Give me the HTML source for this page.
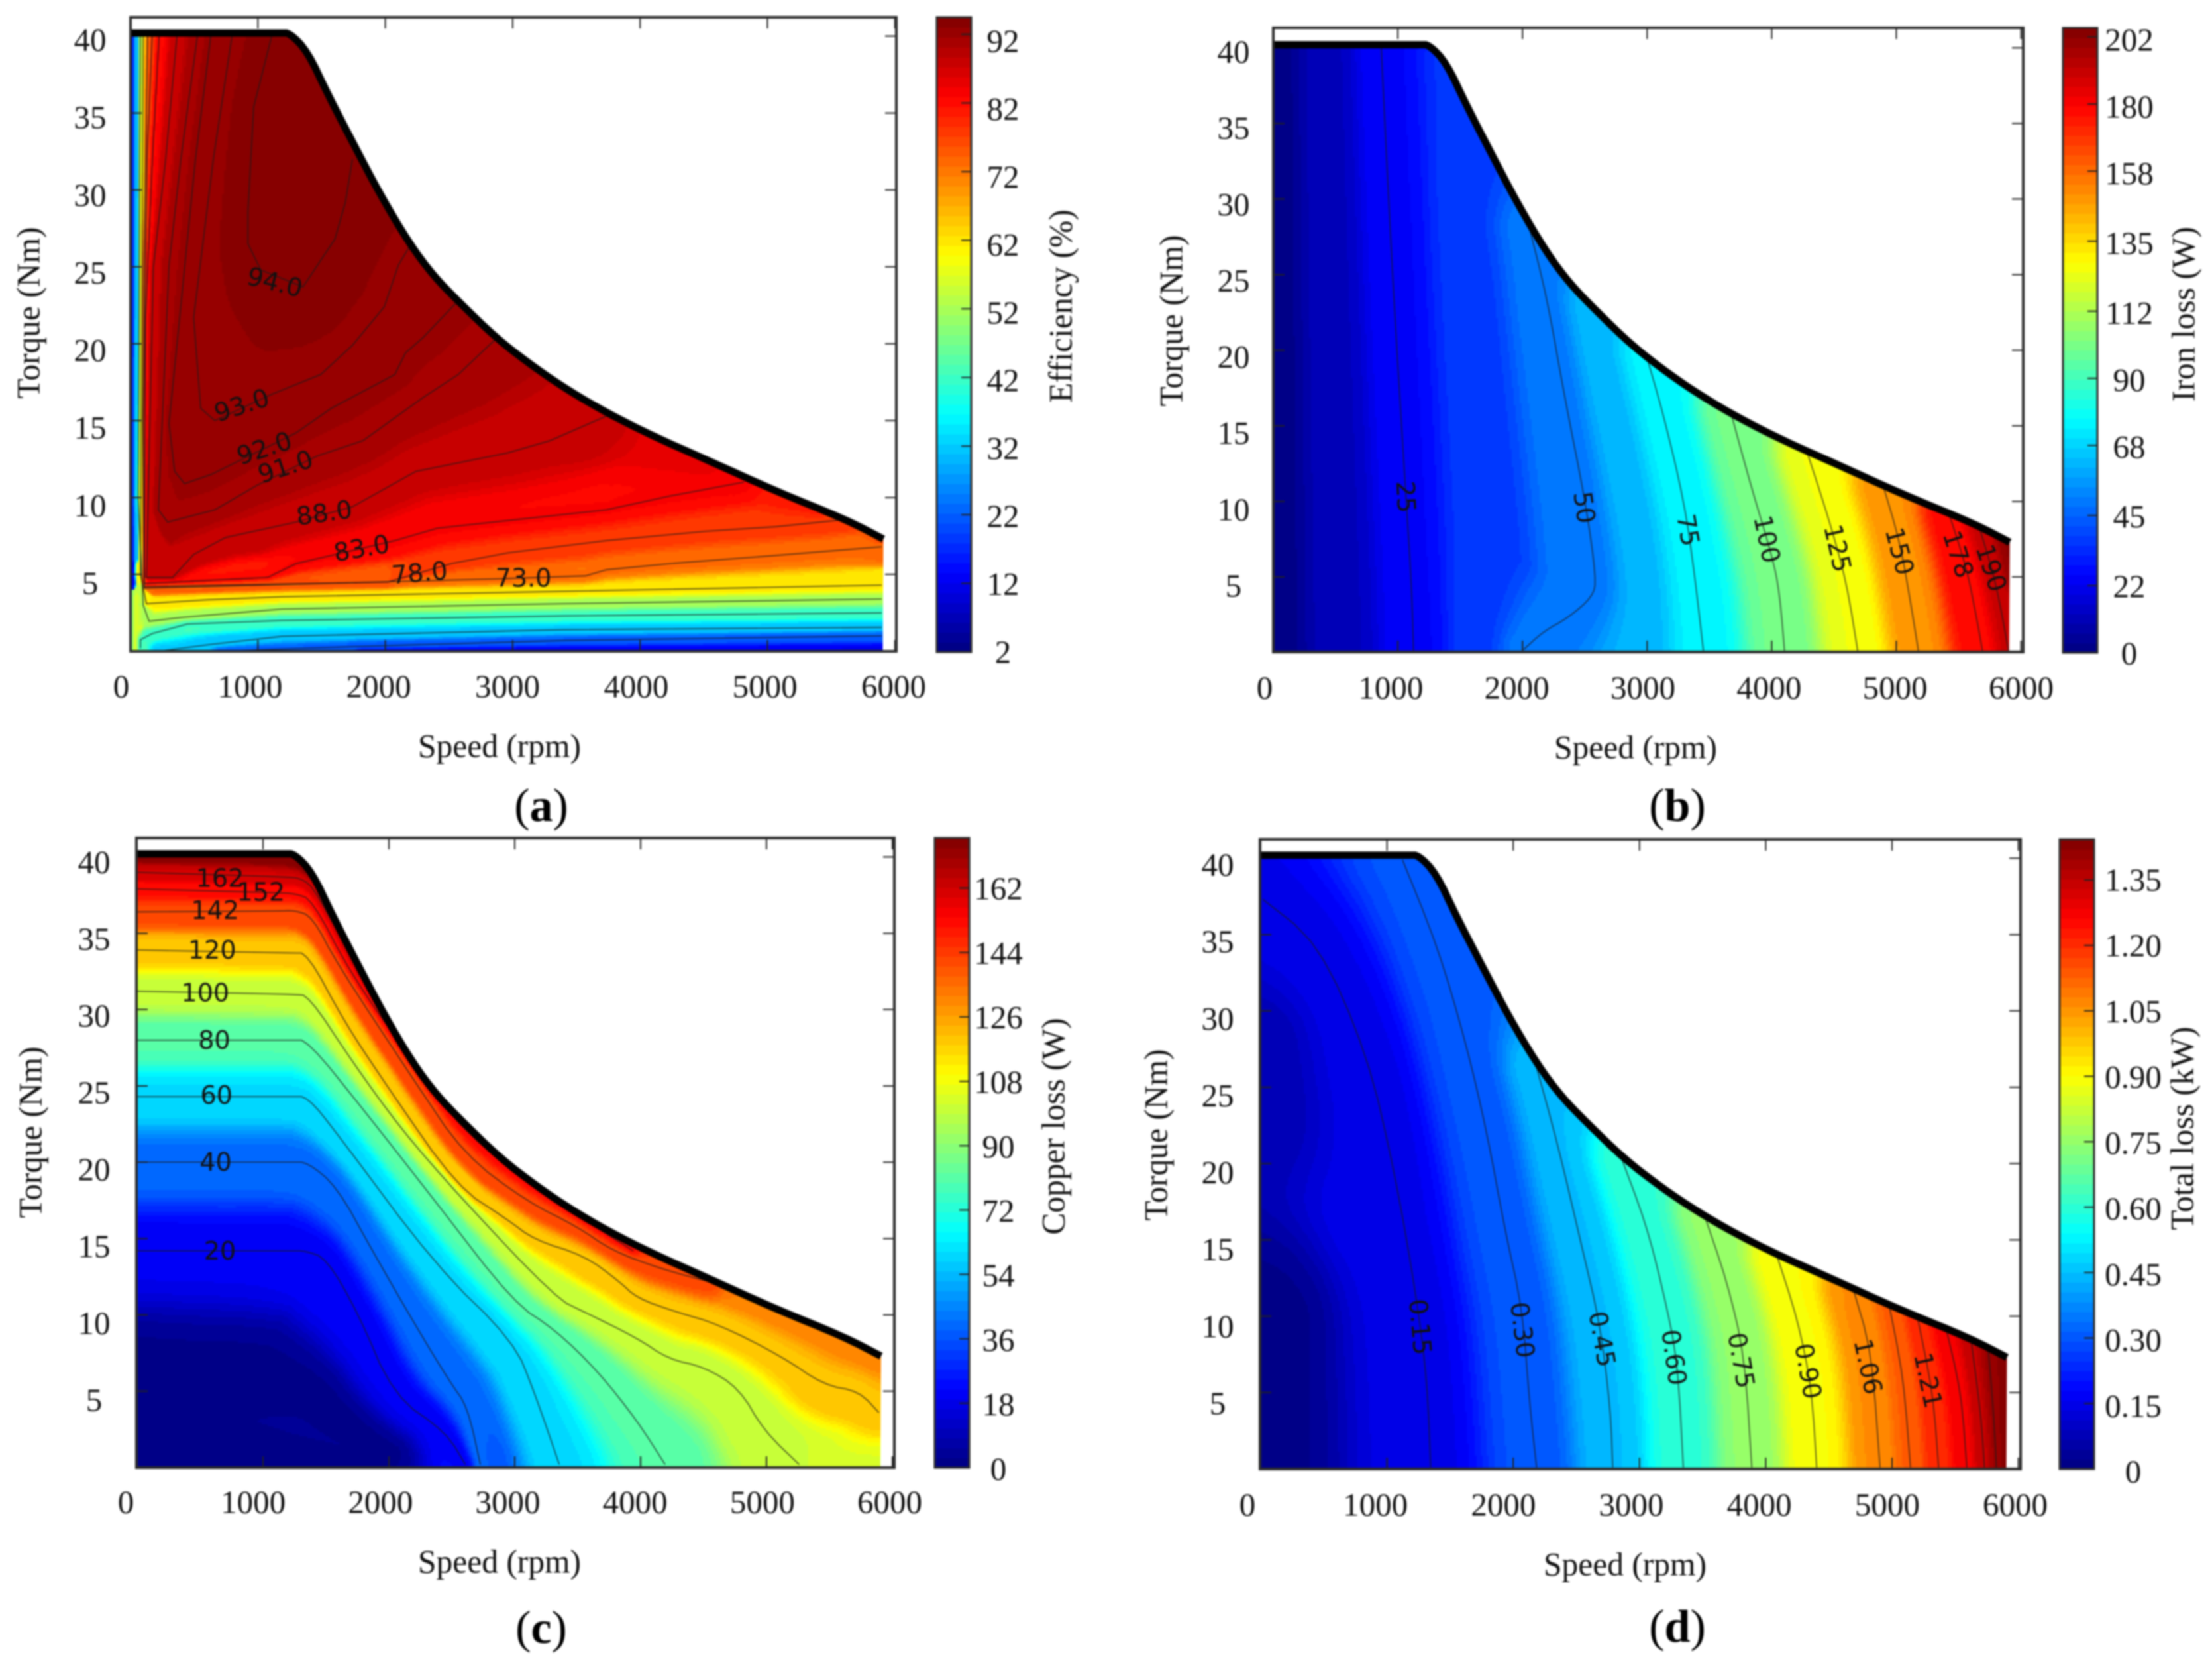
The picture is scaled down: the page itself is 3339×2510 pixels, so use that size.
<!DOCTYPE html>
<html lang="en">
<head>
<meta charset="utf-8">
<title>Motor efficiency and loss maps</title>
<style>
html,body{margin:0;padding:0;background:#fff;}
#figure{display:block;filter:blur(1.2px);}
text{font-family:"Liberation Serif",serif;fill:#111;}
.contour-label{font-family:"DejaVu Sans",sans-serif;font-size:38px;}
.tick{font-size:49px;}
.title{font-size:49.5px;}
.caption{font-size:70px;fill:#000;}
</style>
</head>
<body>
<svg id="figure" xmlns="http://www.w3.org/2000/svg" width="3339" height="2510" viewBox="0 0 3339 2510">
  <rect width="3339" height="2510" fill="#fff"/>
  <g id="panels"></g>
  <g text-anchor="middle" dominant-baseline="central">
    <text class="title" transform="translate(43 472) rotate(-90)">Torque (Nm)</text>
    <text class="title" x="754" y="1126">Speed (rpm)</text>
    <text class="title" transform="translate(1601 462) rotate(-90)">Efficiency (%)</text>
    <text class="caption" x="817" y="1216">(<tspan font-weight="bold">a</tspan>)</text>

    <text class="title" transform="translate(1768 484) rotate(-90)">Torque (Nm)</text>
    <text class="title" x="2469" y="1128">Speed (rpm)</text>
    <text class="title" transform="translate(3296 474) rotate(-90)">Iron loss (W)</text>
    <text class="caption" x="2532" y="1216">(<tspan font-weight="bold">b</tspan>)</text>

    <text class="title" transform="translate(46 1709) rotate(-90)">Torque (Nm)</text>
    <text class="title" x="754" y="2357">Speed (rpm)</text>
    <text class="title" transform="translate(1590 1700) rotate(-90)">Copper loss (W)</text>
    <text class="caption" x="817" y="2457">(<tspan font-weight="bold">c</tspan>)</text>

    <text class="title" transform="translate(1745 1713) rotate(-90)">Torque (Nm)</text>
    <text class="title" x="2453" y="2361">Speed (rpm)</text>
    <text class="title" transform="translate(3294 1703) rotate(-90)">Total loss (kW)</text>
    <text class="caption" x="2532" y="2455">(<tspan font-weight="bold">d</tspan>)</text>
  </g>
</svg>
<script>
/* ---------- shared axis data ---------- */
const speedTicks = [0, 1000, 2000, 3000, 4000, 5000, 6000];
const torqueTicks = [5, 10, 15, 20, 25, 30, 35, 40];
const envelopeSpeed = [0, 1180, 1250, 1390, 1550, 1750, 1960, 2190, 2380, 2580, 2880, 3180, 3450, 3740, 4100, 4510, 5070, 5620, 5910];
const envelopeTorque = [40.2, 40.2, 40.2, 39, 36.2, 33, 29.7, 26.5, 24.4, 22.7, 20.3, 18.4, 16.9, 15.5, 14, 12.5, 10.4, 8.55, 7.3];

/* ---------- (a) efficiency, % ---------- */
const efficiencyBarTicks = [92, 82, 72, 62, 52, 42, 32, 22, 12, 2];
const efficiencyLevels = [94, 93, 92, 91, 88, 83, 78, 73, 62, 52, 42, 32, 22];
const efficiencyContours = [
  [[1108,40],[967,35.4],[922,28.6],[922,26.5],[1022,24.8],[1354,23.7],[1604,26.8],[1687,29.2],[1742,32]],
  [[796,40],[650,32],[496,21.7],[551,15.8],[662,15],[1105,16.7],[1493,18],[1742,19.9],[1992,22.4],[2102,25.1],[2196,26.4]],
  [[630,40],[510,32],[302,14.8],[346,11.7],[424,10.9],[634,11.5],[1299,14.2],[1576,15.8],[2075,18],[2158,19.4],[2296,20.4],[2573,22.8]],
  [[525,40],[395,32],[302,25.1],[219,9.2],[291,8.4],[662,9.2],[994,10.8],[1465,12.7],[1825,13.7],[2296,16.5],[2573,18],[2878,20.4]],
  [[364,40],[276,32],[180,25],[125,4.8],[330,4.8],[496,6.3],[745,7.4],[1299,8.4],[1742,9.4],[2241,11.7],[2961,12.9],[3293,13.7],[3737,15.3]],
  [[224,40],[172,32],[119,21.7],[108,4.4],[1077,4.8],[1299,5.7],[2075,7.2],[2407,8],[3737,9.2],[4235,10.1],[4816,11]],
  [[170,40],[130,32],[102,15],[108,4.2],[2020,4.5],[2518,5.7],[2961,6.4],[3737,7.2],[4512,7.8],[5067,8.1],[5648,8.6]],
  [[135,40],[105,25],[97,15],[108,4.1],[2850,4.7],[3571,4.9],[3737,5.3],[4235,5.7],[5011,6.2],[5897,6.8]],
  [[100,40],[78,5],[125,3.1],[600,3.35],[1188,3.55],[3405,3.9],[5897,4.3]],
  [[78,40],[60,10],[100,3],[146,1.95],[400,2.2],[1188,2.75],[3405,3.1],[5897,3.4]],
  [[78,0.2],[78,0.75],[171,1.15],[447,1.77],[1188,2],[3405,2.3],[5897,2.5]],
  [[219,0],[634,0.45],[1188,0.97],[3405,1.4],[5897,1.55]],
  [[690,0],[1743,0.3],[3405,0.7],[5897,1]]
];
const efficiencyGuideLevels = [95, 12, 12, 30, 46, 56, 85.5, 80.5, 76];
const efficiencyGuides = [
  [[1150,40],[1250,40],[1390,39],[1750,32.3],[1400,28],[1100,30],[1150,40]],
  [[1800,0],[3500,0],[5900,0.1]],
  [[0,4.5],[0,40.5]],
  [[50,6],[50,40.5]],
  [[0,0],[0,3.5]],
  [[35,0],[40,3.5]],
  [[4150,13.7],[4500,12.3]],
  [[5100,10.1],[5400,9.1]],
  [[5860,7.3],[5900,7.1]]
];
const efficiencyLabelText = ["94.0", "93.0", "92.0", "91.0", "88.0", "83.0", "78.0", "73.0"];
const efficiencyLabelSpeed = [1133, 873, 1050, 1216, 1521, 1814, 2269, 3084];
const efficiencyLabelTorque = [24, 16, 13.2, 12, 9, 6.7, 5.1, 4.76];
const efficiencyLabelAngle = [14, -18, -18, -18, -8, -10, -5, 0];

/* ---------- (b) iron loss, W ---------- */
const ironBarTicks = [202, 180, 158, 135, 112, 90, 68, 45, 22, 0];
const ironLevels = [25, 50, 75, 100, 125, 150, 178, 190];
const ironContours = [
  [[866,40],[951,25.6],[1064,10.4],[1109,4.6],[1126,0]],
  [[2055,28.1],[2196,23.5],[2338,16.9],[2507,9.9],[2592,4.9],[2564,3.7],[2366,2.3],[2168,1.4],[2009,0.2]],
  [[2988,19.8],[3130,15.8],[3300,9.9],[3385,4.9],[3453,0]],
  [[3668,16],[3837,10.9],[4007,6.3],[4064,3.9],[4104,0]],
  [[4290,13.1],[4460,8.8],[4602,4.6],[4692,0]],
  [[4896,11],[5026,7.4],[5111,3.5],[5179,0]],
  [[5422,9.2],[5564,5.6],[5649,2.1],[5694,0]],
  [[5666,8.3],[5801,4.6],[5903,0]]
];
const ironGuideLevels = [1, 202, 12, 37, 62];
const ironGuides = [
  [[0,0],[0,40.5]],
  [[5890,7.4],[5950,5]],
  [[430,40],[480,20],[540,0]],
  [[1500,39],[1560,25],[1640,10],[1650,0]],
  [[2500,23],[2700,15],[2950,5],[2950,0]]
];
const ironLabelText = ["25", "50", "75", "100", "125", "150", "178", "190"];
const ironLabelSpeed = [1064, 2496, 3328, 3962, 4528, 5026, 5496, 5762];
const ironLabelTorque = [10.3, 9.6, 8.1, 7.5, 6.9, 6.7, 6.5, 5.6];
const ironLabelAngle = [87, 82, 80, 78, 77, 75, 72, 72];

/* ---------- (c) copper loss, W ---------- */
const copperBarTicks = [162, 144, 126, 108, 90, 72, 54, 36, 18, 0];
const copperLevels = [20, 40, 60, 80, 100, 120, 142, 152, 162];
const copperContours = [
  [[0,14.2],[1230,14.2],[1336,14.2],[1505,13.7],[1757,10.1],[2037,4.7],[2457,2.3],[2608,0.2]],
  [[0,20],[1230,20],[1353,20],[1588,18.4],[1869,14.2],[2205,9.4],[2485,5.6],[2625,4],[2727,0.2]],
  [[0,24.3],[1230,24.3],[1353,24.3],[1588,21.9],[2373,13.2],[2990,8.3],[3158,4.9],[3354,0.2]],
  [[0,28],[1230,28],[1353,28],[1812,23.3],[2373,17.4],[2990,10.8],[3326,9],[3662,6.3],[3970,3.1],[4195,0.2]],
  [[0,31.2],[1250,31],[1364,30.9],[1700,26.7],[2093,22.2],[2569,17.7],[3326,11.1],[3550,10.2],[3970,8.5],[4222,7.1],[4503,6.6],[4783,5.2],[4980,2.4],[5260,0.2]],
  [[0,33.9],[1230,33.7],[1353,33.7],[1645,29.2],[2009,24.7],[2541,18.4],[2933,16.3],[3158,14.9],[3550,13.9],[3830,12.2],[3970,11.1],[4279,10.2],[4615,9.4],[5119,7.3],[5455,5.4],[5736,5],[5893,3.6]],
  [[0,36.4],[1120,36.45],[1252,36.5],[1392,36.1],[1588,33],[2205,25.3],[2597,20.5],[3102,17.4],[3494,15.8],[3774,14.2],[4167,13],[4532,12.2]],
  [[0,37.9],[1120,37.65],[1252,37.6],[1392,37.2],[1700,32.3],[2205,26.4],[2597,21.9],[3326,17.4],[3942,14.2]],
  [[0,39],[1180,38.7],[1308,38.6],[1421,37.8],[1813,31.6],[2261,26],[2709,21.9],[3158,19.1]]
];
const copperGuideLevels = [2, 176, 132, 104];
const copperGuides = [
  [[0,0],[2200,0],[1700,2.5],[1300,6],[0,7]],
  [[0,40.1],[1250,40.1],[1390,39]],
  [[4800,11.3],[5200,9.9],[5900,7.3]],
  [[5400,0],[5900,0]]
];
const copperLabelText = ["162", "152", "142", "120", "100", "80", "60", "40", "20"];
const copperLabelSpeed = [658, 983, 619, 596, 541, 613, 630, 624, 658];
const copperLabelTorque = [38.6, 37.7, 36.5, 33.9, 31.1, 28, 24.4, 20, 14.2];
const copperLabelAngle = [0, 0, 0, 0, 0, 0, 0, 0, 0];

/* ---------- (d) total loss, kW ---------- */
const totalBarTicks = ["1.35", "1.20", "1.05", "0.90", "0.75", "0.60", "0.45", "0.30", "0.15", "0"];
const totalLevels = [0.15, 0.30, 0.45, 0.60, 0.75, 0.90, 1.06, 1.13, 1.21, 1.28, 1.35, 1.40];
const totalContours = [
  [[17,37.3],[453,34.5],[844,27.2],[1067,19.2],[1235,11.2],[1319,5.7],[1346,0.1]],
  [[1123,39.9],[1402,34.2],[1626,27.9],[1793,22],[1933,15.7],[2073,10.5],[2129,4.3],[2185,0.1]],
  [[2185,26.3],[2352,21.3],[2548,14.4],[2687,9.5],[2771,3.9],[2788,0.1]],
  [[2855,20.4],[3050,16.1],[3190,11.6],[3302,7.1],[3347,0.1]],
  [[3514,16.6],[3693,12.3],[3833,7.4],[3889,0.1]],
  [[4095,13.8],[4252,9.8],[4363,5.3],[4403,0.1]],
  [[4699,11.6],[4838,7.7],[4905,0.1]],
  [[4978,10.7],[5090,6],[5146,0.1]],
  [[5202,9.9],[5324,5],[5369,0.1]],
  [[5425,9.3],[5548,5],[5592,0.1]],
  [[5620,8.8],[5704,3.6],[5732,0.1]],
  [[5760,8.1],[5805,3.6],[5827,0.1]]
];
const totalGuideLevels = [0.01, 0.07, 1.44];
const totalGuides = [
  [[0,0],[0,9]],
  [[0,24],[0,28]],
  [[5900,7.4],[5900,0.1]]
];
const totalLabelText = ["0.15", "0.30", "0.45", "0.60", "0.75", "0.90", "1.06", "1.21"];
const totalLabelSpeed = [1263, 2073, 2704, 3274, 3805, 4335, 4810, 5285];
const totalLabelTorque = [9.3, 9.1, 8.5, 7.3, 7.1, 6.4, 6.7, 5.8];
const totalLabelAngle = [85, 83, 80, 82, 80, 80, 78, 78];

/* ---------- panel definitions (geometry lives here, data lives above) ---------- */
const panelConfigs = [
  { key:"efficiency", levels:efficiencyLevels, contours:efficiencyContours, guideLevels:efficiencyGuideLevels, guides:efficiencyGuides,
    labelText:efficiencyLabelText, labelSpeed:efficiencyLabelSpeed, labelTorque:efficiencyLabelTorque, labelAngle:efficiencyLabelAngle,
    barTicks:efficiencyBarTicks, vmin:2, vmax:94.5, smoothing:0,
    frame:{l:197,r:1353,t:26,b:983}, x0:197, kx:0.1923, y0:983, ky:23.21,
    xLab:{a:183,b:1349,y:1036}, yLab:{x:136,a:60,b:880},
    bar:{l:1414,r:1466,t:26,b:984}, barLab:{x:1514,a:62,b:984} },
  { key:"iron", levels:ironLevels, contours:ironContours, guideLevels:ironGuideLevels, guides:ironGuides,
    labelText:ironLabelText, labelSpeed:ironLabelSpeed, labelTorque:ironLabelTorque, labelAngle:ironLabelAngle,
    barTicks:ironBarTicks, vmin:0, vmax:205, smoothing:2,
    frame:{l:1922,r:3054,t:42,b:984}, x0:1922, kx:0.1881, y0:985, ky:22.82,
    xLab:{a:1909,b:3051,y:1038}, yLab:{x:1862,a:78,b:884},
    bar:{l:3114,r:3166,t:42,b:985}, barLab:{x:3214,a:60,b:986} },
  { key:"copper", levels:copperLevels, contours:copperContours, guideLevels:copperGuideLevels, guides:copperGuides,
    labelText:copperLabelText, labelSpeed:copperLabelSpeed, labelTorque:copperLabelTorque, labelAngle:copperLabelAngle,
    barTicks:copperBarTicks, vmin:0, vmax:176, smoothing:2,
    frame:{l:206,r:1350,t:1265,b:2215}, x0:207, kx:0.19, y0:2215, ky:23.04,
    xLab:{a:190,b:1343,y:2267}, yLab:{x:142,a:1301,b:2113},
    bar:{l:1411,r:1463,t:1265,b:2215}, barLab:{x:1507,a:1341,b:2217} },
  { key:"total", levels:totalLevels, contours:totalContours, guideLevels:totalGuideLevels, guides:totalGuides,
    labelText:totalLabelText, labelSpeed:totalLabelSpeed, labelTorque:totalLabelTorque, labelAngle:totalLabelAngle,
    barTicks:totalBarTicks, vmin:0, vmax:1.443, smoothing:2,
    frame:{l:1902,r:3050,t:1267,b:2217}, x0:1903, kx:0.1906, y0:2217, ky:23.04,
    xLab:{a:1883,b:3042,y:2271}, yLab:{x:1838,a:1305,b:2118},
    bar:{l:3109,r:3161,t:1267,b:2217}, barLab:{x:3220,a:1328,b:2221} }
];

const NS = "http://www.w3.org/2000/svg";
const root = document.getElementById("panels");
const BAND_COUNT = 64;
const CELL = 3;
const NEIGHBOURS = 3;
const FIELD_LIMIT_RPM = 5905;

function make(tag, parent, attrs) {
  const el = document.createElementNS(NS, tag);
  for (const k in attrs) el.setAttribute(k, attrs[k]);
  parent.appendChild(el);
  return el;
}
function clamp01(v) { return v < 0 ? 0 : v > 1 ? 1 : v; }
function jet(t) {
  const r = clamp01(1.5 - Math.abs(4 * t - 3));
  const g = clamp01(1.5 - Math.abs(4 * t - 2));
  const b = clamp01(1.5 - Math.abs(4 * t - 1));
  return "rgb(" + Math.round(r * 255) + "," + Math.round(g * 255) + "," + Math.round(b * 255) + ")";
}
/* corner rounding for drawing: keeps the end points of a polyline */
function roundCorners(poly, passes) {
  let cur = poly;
  for (let n = 0; n < passes; n++) {
    const next = [cur[0]];
    for (let i = 0; i + 1 < cur.length; i++) {
      const a = cur[i], b = cur[i + 1];
      if (i > 0) next.push([0.75 * a[0] + 0.25 * b[0], 0.75 * a[1] + 0.25 * b[1]]);
      if (i + 2 < cur.length) next.push([0.25 * a[0] + 0.75 * b[0], 0.25 * a[1] + 0.75 * b[1]]);
    }
    next.push(cur[cur.length - 1]);
    cur = next;
  }
  return cur;
}
function envelopeAt(rpm) {
  for (let i = 1; i < envelopeSpeed.length; i++) {
    if (rpm <= envelopeSpeed[i]) {
      const f = (rpm - envelopeSpeed[i - 1]) / (envelopeSpeed[i] - envelopeSpeed[i - 1]);
      return envelopeTorque[i - 1] + f * (envelopeTorque[i] - envelopeTorque[i - 1]);
    }
  }
  return envelopeTorque[envelopeTorque.length - 1];
}
function segDist2(px, py, ax, ay, bx, by) {
  const dx = bx - ax, dy = by - ay;
  const len = dx * dx + dy * dy;
  let t = len > 0 ? ((px - ax) * dx + (py - ay) * dy) / len : 0;
  t = t < 0 ? 0 : t > 1 ? 1 : t;
  const qx = ax + t * dx - px, qy = ay + t * dy - py;
  return qx * qx + qy * qy;
}

function renderPanel(p) {
  const X = rpm => p.x0 + rpm * p.kx;
  const Y = nm => p.y0 - nm * p.ky;
  const group = make("g", root, {});
  
  

  /* envelope outline, slightly rounded */
  const rounded = roundCorners(envelopeSpeed.map((s, i) => [s, envelopeTorque[i]]), 2);

  /* clip: torque-speed envelope */
  const defs = make("defs", group, {});
  const clip = make("clipPath", defs, { id: p.key + "-clip" });
  let pts = p.frame.l + "," + p.frame.b;
  rounded.forEach((pt, i) => { pts += " " + (i === 0 ? p.frame.l : X(pt[0])) + "," + Y(pt[1]); });
  pts += " " + X(FIELD_LIMIT_RPM) + "," + p.frame.b;
  make("polygon", clip, { points: pts });

  /* isolines in pixel space for the field estimate */
  const lines = [];
  const addLine = (poly, v) => {
    const flat = [];
    roundCorners(poly, p.smoothing).forEach(pt => { flat.push(X(pt[0]), Y(pt[1])); });
    lines.push({ v: v, flat: flat });
  };
  p.contours.forEach((poly, i) => addLine(poly, p.levels[i]));
  p.guides.forEach((poly, i) => addLine(poly, p.guideLevels[i]));

  const valueAt = (px, py) => {
    const ds = new Array(lines.length);
    for (let i = 0; i < lines.length; i++) {
      const f = lines[i].flat;
      let best = Infinity;
      for (let j = 0; j + 3 < f.length; j += 2) {
        const d = segDist2(px, py, f[j], f[j + 1], f[j + 2], f[j + 3]);
        if (d < best) best = d;
      }
      ds[i] = { d: Math.sqrt(best), v: lines[i].v };
    }
    ds.sort((a, b) => a.d - b.d);
    if (ds[0].d < 0.01) return ds[0].v;
    const n = Math.min(NEIGHBOURS, ds.length);
    const R = ds.length > n ? ds[n].d : ds[n - 1].d * 1.6;
    let sw = 0, sv = 0;
    for (let i = 0; i < n; i++) {
      const w0 = (R - ds[i].d) / (R * ds[i].d);
      const w = w0 * w0;
      sw += w;
      sv += w * ds[i].v;
    }
    return sw > 0 ? sv / sw : ds[0].v;
  };

  /* filled bands, one path per colour level */
  const bandD = new Array(BAND_COUNT).fill("");
  const leftEdge = p.frame.l;
  const rightEdge = Math.round(X(FIELD_LIMIT_RPM)) + 3;
  for (let y = p.frame.t; y < p.frame.b; y += CELL) {
    let runStart = -1, runBand = -1;
    let x = leftEdge;
    const flush = (endX) => {
      if (runBand >= 0) bandD[runBand] += "M" + runStart + " " + y + "h" + (endX - runStart) + "v" + CELL + "h" + (runStart - endX) + "z";
    };
    for (; x < rightEdge; x += CELL) {
      const rpm = (x + 1.5 - p.x0) / p.kx;
      const nm = (p.y0 - (y + 1.5)) / p.ky;
      const inside = nm <= envelopeAt(Math.max(rpm, 0)) + 0.9;
      let band = -1;
      if (inside) {
        const v = valueAt(Math.max(x + 1.5, p.x0), y + 1.5);
        band = Math.floor(clamp01((v - p.vmin) / (p.vmax - p.vmin)) * (BAND_COUNT - 1e-6));
      }
      if (band !== runBand) {
        flush(x);
        runStart = x;
        runBand = band;
      }
    }
    flush(x);
  }
  const field = make("g", group, { "clip-path": "url(#" + p.key + "-clip)", "shape-rendering": "crispEdges" });
  
  
  bandD.forEach((d, i) => {
    if (!d) return;
    const band = make("path", field, { d: d, fill: jet((i + 0.5) / BAND_COUNT) });
    
    
  });

  /* contour lines */
  const contourGroup = make("g", group, { "clip-path": "url(#" + p.key + "-clip)", fill: "none", stroke: "#1a1a1a", "stroke-width": 1.7, "stroke-opacity": 0.72 });
  
  
  p.contours.forEach(poly => {
    const line = make("polyline", contourGroup, { points: roundCorners(poly, p.smoothing).map(pt => X(pt[0]) + "," + Y(pt[1])).join(" ") });
    
    
  });

  /* ticks */
  const tickGroup = make("g", group, { stroke: "#222", "stroke-width": 2 });
  
  
  speedTicks.forEach(s => {
    if (s === 0) return;
    const a = make("line", tickGroup, { x1: X(s), x2: X(s), y1: p.frame.b, y2: p.frame.b - 17 });
    
    
    const b = make("line", tickGroup, { x1: X(s), x2: X(s), y1: p.frame.t, y2: p.frame.t + 17 });
    
    
  });
  torqueTicks.forEach(t => {
    const a = make("line", tickGroup, { x1: p.frame.l, x2: p.frame.l + 17, y1: Y(t), y2: Y(t) });
    
    
    const b = make("line", tickGroup, { x1: p.frame.r, x2: p.frame.r - 17, y1: Y(t), y2: Y(t) });
    
    
  });

  /* envelope */
  const env = make("polyline", group, {
    points: rounded.map((pt, i) => (i === 0 ? p.frame.l : X(pt[0])) + "," + Y(pt[1])).join(" "),
    fill: "none", stroke: "#000", "stroke-width": 11, "stroke-linejoin": "round"
  });
  
  

  /* frame */
  const frame = make("rect", group, { x: p.frame.l, y: p.frame.t, width: p.frame.r - p.frame.l, height: p.frame.b - p.frame.t, fill: "none", stroke: "#2a2a2a", "stroke-width": 4 });
  
  

  /* contour labels */
  p.labelText.forEach((txt, i) => {
    const lx = X(p.labelSpeed[i]), ly = Y(p.labelTorque[i]);
    const t = make("text", group, { class: "contour-label", x: lx, y: ly, "text-anchor": "middle", "dominant-baseline": "central", transform: "rotate(" + p.labelAngle[i] + " " + lx + " " + ly + ")" });
    t.textContent = txt;
    
    
  });

  /* axis labels */
  speedTicks.forEach(s => {
    const t = make("text", group, { class: "tick", x: p.xLab.a + (p.xLab.b - p.xLab.a) * s / 6000, y: p.xLab.y, "text-anchor": "middle", "dominant-baseline": "central" });
    t.textContent = s;
    
    
  });
  torqueTicks.forEach(v => {
    const t = make("text", group, { class: "tick", x: p.yLab.x, y: p.yLab.a + (p.yLab.b - p.yLab.a) * (40 - v) / 35, "text-anchor": "middle", "dominant-baseline": "central" });
    t.textContent = v;
    
    
  });

  /* colour bar */
  const barGroup = make("g", group, {});
  
  
  const bh = p.bar.b - p.bar.t;
  for (let i = 0; i < BAND_COUNT; i++) {
    const y1 = p.bar.b - bh * (i + 1) / BAND_COUNT;
    const seg = make("rect", barGroup, { x: p.bar.l, y: y1, width: p.bar.r - p.bar.l, height: bh / BAND_COUNT + 1, fill: jet((i + 0.5) / BAND_COUNT) });
    
    
  }
  const barFrame = make("rect", barGroup, { x: p.bar.l, y: p.bar.t, width: p.bar.r - p.bar.l, height: bh, fill: "none", stroke: "#2a2a2a", "stroke-width": 3 });
  
  
  const first = parseFloat(p.barTicks[0]);
  const last = parseFloat(p.barTicks[p.barTicks.length - 1]);
  p.barTicks.forEach(v => {
    const num = parseFloat(v);
    const by = p.bar.b - bh * (num - p.vmin) / (p.vmax - p.vmin);
    if (num !== last) {
      const tk = make("line", barGroup, { x1: p.bar.r, x2: p.bar.r - 15, y1: by, y2: by, stroke: "#222", "stroke-width": 2 });
      
      
    }
    const t = make("text", barGroup, { class: "tick", x: p.barLab.x, y: p.barLab.a + (p.barLab.b - p.barLab.a) * (first - num) / (first - last), "text-anchor": "middle", "dominant-baseline": "central" });
    t.textContent = v;
    
    
  });
}
panelConfigs.forEach(renderPanel);
</script>
</body>
</html>
